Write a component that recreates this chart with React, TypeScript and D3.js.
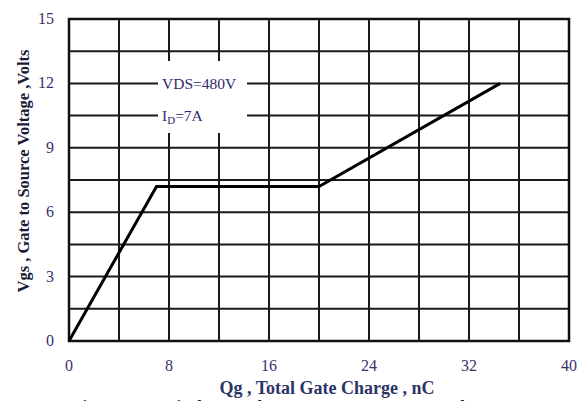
import React from "react";
import * as d3 from "d3";

const xTicks = [0, 8, 16, 24, 32, 40];
const yTicks = [0, 3, 6, 9, 12, 15];
const xGrid = [0, 4, 8, 12, 16, 20, 24, 28, 32, 36, 40];
const yGrid = [0, 1.5, 3, 4.5, 6, 7.5, 9, 10.5, 12, 13.5, 15];
const qg = [0, 7, 20, 34.5];
const vgs = [0, 7.2, 7.2, 12];

export default function App() {
  const W = 586, H = 401;
  const m = { left: 69, right: 569, top: 19, bottom: 341 };
  const x = d3.scaleLinear().domain([0, 40]).range([m.left, m.right]);
  const y = d3.scaleLinear().domain([0, 15]).range([m.bottom, m.top]);
  const line = d3.line<number>().x((d, i) => x(qg[i])).y((d) => y(d));
  const font = "'Liberation Serif', 'Times New Roman', serif";
  const tickColor = "#3b2f6e";
  return (
    <svg width={W} height={H} style={{ position: "absolute", left: 0, top: 0, background: "#fff" }} fontFamily={font}>
      <rect width={W} height={H} fill="#fff" />
      {xGrid.map((v) => (
        <line key={"vx" + v} x1={x(v)} x2={x(v)} y1={m.top} y2={m.bottom} stroke="#1a1a1a" strokeWidth={2} />
      ))}
      {yGrid.map((v) => (
        <line key={"hy" + v} x1={m.left} x2={m.right} y1={y(v)} y2={y(v)} stroke="#1a1a1a" strokeWidth={2} />
      ))}
      <rect x={m.left} y={m.top} width={m.right - m.left} height={m.bottom - m.top} fill="none" stroke="#111" strokeWidth={2.5} />
      <rect x={158} y={61} width={89} height={72} fill="#fff" />
      <text x={162} y={89} fontSize={15.5} fill="#2d2a6a">VDS=480V</text>
      <text x={162} y={121} fontSize={15.5} fill="#2d2a6a">
        I<tspan fontSize={11} dy={3}>D</tspan><tspan dy={-3}>=7A</tspan>
      </text>
      <path d={line(vgs) || ""} fill="none" stroke="#000" strokeWidth={3} strokeLinejoin="miter" />
      {yTicks.map((v) => (
        <text key={"yt" + v} x={54} y={y(v) + 5} textAnchor="end" fontSize={16} fill={tickColor}>{v}</text>
      ))}
      {xTicks.map((v) => (
        <text key={"xt" + v} x={x(v)} y={371} textAnchor="middle" fontSize={16} fill={tickColor}>{v}</text>
      ))}
      <text x={327} y={394} textAnchor="middle" fontSize={18} fill="#2c3466" fontWeight="bold">Qg , Total Gate Charge , nC</text>
      <text transform={`translate(29,171) rotate(-90)`} textAnchor="middle" fontSize={16.5} fontWeight="bold" fill="#1b1b3a">Vgs , Gate to Source Voltage ,Volts</text>
      <text x={72} y={412} fontSize={17} fill="#1b1b3a" fontWeight="bold">Figure 11. Typical Gate Charge vs. Gate-to-Source Voltage</text>
    </svg>
  );
}
